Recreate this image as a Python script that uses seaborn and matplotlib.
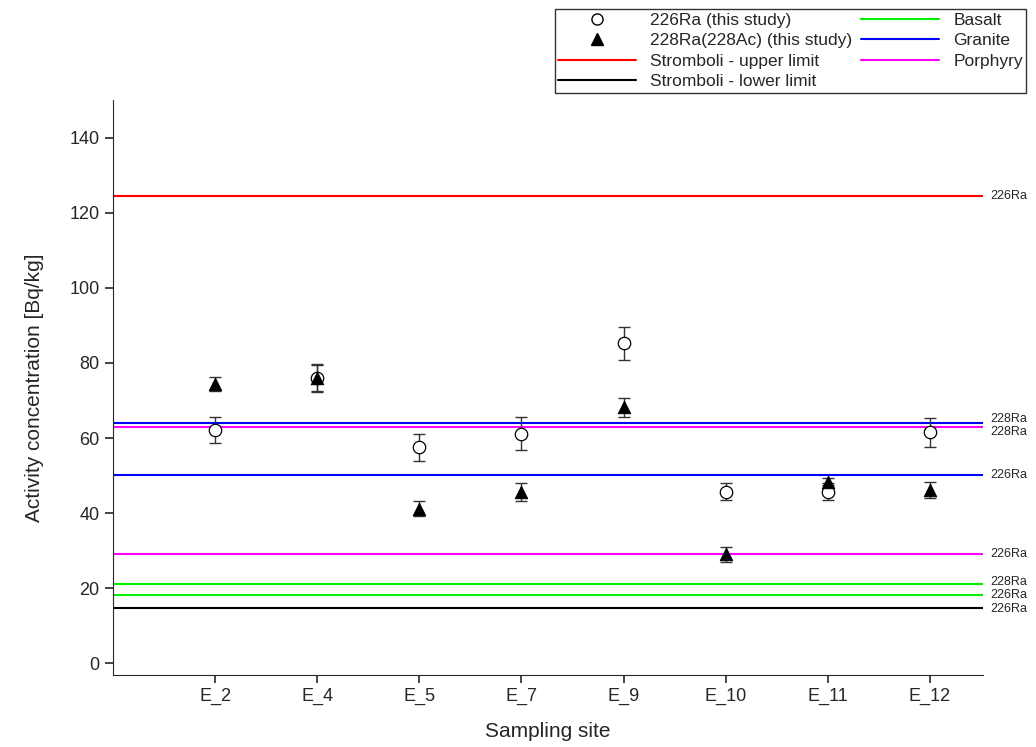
import numpy as np
import pandas as pd
import matplotlib
matplotlib.use("Agg")
import matplotlib.pyplot as plt
import seaborn as sns
from matplotlib.lines import Line2D

sites = ["E_2", "E_4", "E_5", "E_7", "E_9", "E_10", "E_11", "E_12"]
ra226 = [62.2, 76.0, 57.5, 61.2, 85.2, 45.7, 45.7, 61.5]
ra226_err = [3.4, 3.5, 3.7, 4.4, 4.4, 2.2, 2.3, 3.9]
ra228 = [74.4, 75.9, 41.2, 45.5, 68.2, 29.1, 48.4, 46.2]
ra228_err = [1.9, 3.7, 1.9, 2.4, 2.5, 2.0, 1.0, 2.1]

# reference lines: (value, colour, label at right)
ref_lines = [
    (124.5, "#ff0000", "226Ra"),
    (64.0, "#0000ff", "228Ra"),
    (62.8, "#ff00ff", "228Ra"),
    (50.1, "#0000ff", "226Ra"),
    (29.0, "#ff00ff", "226Ra"),
    (21.2, "#00ee00", "228Ra"),
    (18.2, "#00ee00", "226Ra"),
    (14.8, "#000000", "226Ra"),
]
# small vertical nudges (points) so close labels don't collide
label_nudge = [0, 3, -3, 0, 0, 1, 0, -1]

df = pd.DataFrame({"site": sites, "ra226": ra226, "ra228": ra228})
x = np.arange(len(sites))

sns.set_style("ticks")
plt.rcParams["font.family"] = ["Arial", "Liberation Sans", "DejaVu Sans"]
fig, ax = plt.subplots(figsize=(10.36, 7.47), dpi=100)
fig.subplots_adjust(left=0.109, right=0.949, top=0.866, bottom=0.097)

for (val, col, lab), dy in zip(ref_lines, label_nudge):
    ax.axhline(val, color=col, lw=1.5, zorder=1)
    ax.annotate(lab, xy=(1.008, val), xycoords=ax.get_yaxis_transform(),
                xytext=(0, dy), textcoords="offset points",
                fontsize=9, va="center", ha="left")

ax.errorbar(x, ra226, yerr=ra226_err, fmt="none", ecolor="#333333", elinewidth=1, capsize=4, zorder=2)
ax.errorbar(x, ra228, yerr=ra228_err, fmt="none", ecolor="#333333", elinewidth=1, capsize=4, zorder=2)
sns.scatterplot(data=df, x=x, y="ra226", marker="o", s=80, facecolor="white",
                edgecolor="black", linewidth=0.9, ax=ax, zorder=3)
sns.scatterplot(data=df, x=x, y="ra228", marker="^", s=80, color="black",
                edgecolor="black", ax=ax, zorder=4)

ax.set_xlim(-1, 7.52)
ax.set_ylim(-3, 150)
ax.set_xticks(x)
ax.set_xticklabels(sites)
ax.set_yticks(np.arange(0, 141, 20))
ax.tick_params(labelsize=13, width=1.2, length=6)
ax.set_xlabel("Sampling site", fontsize=15, labelpad=12)
ax.set_ylabel("Activity concentration [Bq/kg]", fontsize=15, labelpad=18)
sns.despine(ax=ax)

handles = [
    Line2D([], [], marker="o", ls="none", mfc="white", mec="black", ms=8),
    Line2D([], [], marker="^", ls="none", color="black", ms=8),
    Line2D([], [], color="#ff0000"),
    Line2D([], [], color="#000000"),
    Line2D([], [], color="#00ee00"),
    Line2D([], [], color="#0000ff"),
    Line2D([], [], color="#ff00ff"),
]
labels = ["226Ra (this study)", "228Ra(228Ac) (this study)", "Stromboli - upper limit",
          "Stromboli - lower limit", "Basalt", "Granite", "Porphyry"]
fig.legend(handles, labels, ncol=2, loc="upper right", bbox_to_anchor=(0.999, 0.999),
           fontsize=12.5, frameon=True, fancybox=False, edgecolor="black",
           handlelength=4.5, labelspacing=0.3, borderpad=0.2, columnspacing=0.5)

fig.savefig("out.png")
